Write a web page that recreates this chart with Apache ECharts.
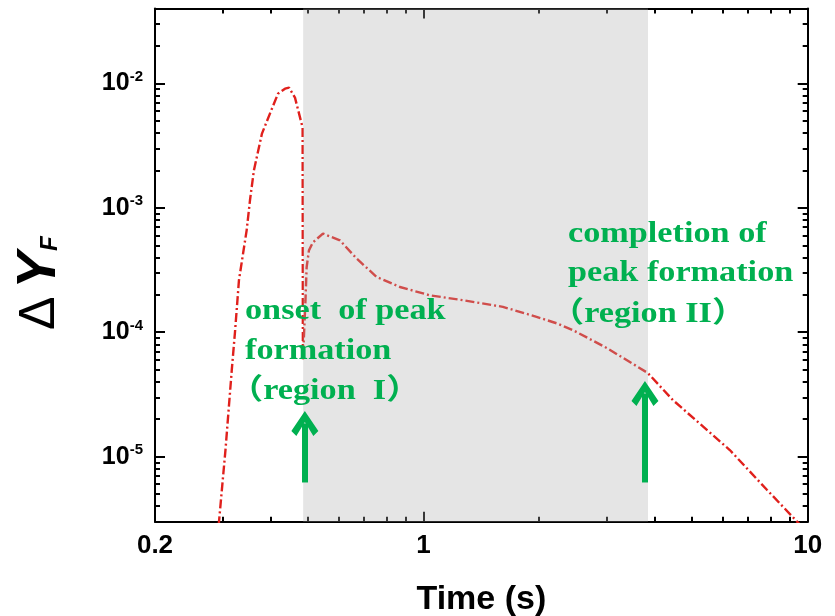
<!DOCTYPE html>
<html><head><meta charset="utf-8">
<script src="https://cdn.jsdelivr.net/npm/echarts@6/dist/echarts.min.js"></script>
<style>html,body{margin:0;padding:0;background:#fff}#c{width:835px;height:616px}</style>
</head><body><div id="c"></div>
<script>
// ---- data ----
const time = [0.288, 0.2935, 0.3051, 0.3168, 0.323, 0.3308, 0.3464, 0.3534, 0.3618, 0.3797, 0.4031, 0.418, 0.436, 0.4466, 0.4628, 0.4845, 0.4853, 0.4929, 0.4963, 0.5032, 0.5154, 0.5472, 0.6058, 0.6697, 0.755, 0.868, 1.039, 1.266, 1.609, 1.969, 2.22, 2.448, 3.002, 3.836, 4.457, 6.27, 7.83, 9.37, 10.0];
const dYF = [1.5e-6, 3.0e-6, 1.13e-5, 4.93e-5, 1.0e-4, 2.62e-4, 6.59e-4, 1.15e-3, 2.0e-3, 3.95e-3, 6.27e-3, 8.27e-3, 9.07e-3, 9.24e-3, 7.68e-3, 4.41e-3, 5.97e-5, 1.81e-4, 3.33e-4, 4.55e-4, 5.28e-4, 6.20e-4, 5.48e-4, 3.91e-4, 2.78e-4, 2.31e-4, 1.98e-4, 1.81e-4, 1.60e-4, 1.33e-4, 1.18e-4, 1.04e-4, 7.46e-5, 4.70e-5, 2.85e-5, 1.13e-5, 5.42e-6, 3.02e-6, 2.45e-6];
const xRange = [0.2, 10];
const yRange = [3e-6, 0.04];
const xLabelValues = [0.2, 1, 10];
const xMajorTicks = [1];
const xMinorTicks = [0.3, 0.4, 0.5, 0.6, 0.7, 0.8, 0.9, 2, 3, 4, 5, 6, 7, 8, 9];
const yMajorTicks = [1e-5, 1e-4, 1e-3, 1e-2];
const yMinorTicks = [4e-6, 5e-6, 6e-6, 7e-6, 8e-6, 9e-6, 2e-5, 3e-5, 4e-5, 5e-5, 6e-5, 7e-5, 8e-5, 9e-5, 2e-4, 3e-4, 4e-4, 5e-4, 6e-4, 7e-4, 8e-4, 9e-4, 2e-3, 3e-3, 4e-3, 5e-3, 6e-3, 7e-3, 8e-3, 9e-3, 2e-2, 3e-2];
const shadeRange = [0.486, 3.84];
const arrowX = [0.491, 3.77];
const arrowBottom = [6.2e-6, 6.2e-6];
const arrowTop = [1.85e-5, 3.22e-5];

const chart = echarts.init(document.getElementById('c'), null, {renderer: 'canvas'});
const black = '#000';
const green = '#00b050';
function xAxisDef(pos, major) {
  return {
    type: 'log', logBase: 10, position: pos, min: xRange[0], max: xRange[1],
    axisLine: {show: major, onZero: false, lineStyle: {color: black, width: 2}},
    axisTick: {show: true, inside: true, length: major ? 10 : 5, lineStyle: {color: black, width: 2},
      customValues: major ? xMajorTicks : xMinorTicks},
    axisLabel: {show: major && pos === 'bottom', customValues: xLabelValues, margin: 11,
      fontFamily: 'Liberation Sans', fontWeight: 'bold', fontSize: 26, color: black,
      formatter: v => String(+v.toPrecision(3))},
    splitLine: {show: false}, minorTick: {show: false},
    name: (major && pos === 'bottom') ? 'Time (s)' : '', nameLocation: 'middle', nameGap: 61,
    nameTextStyle: {fontFamily: 'Liberation Sans', fontWeight: 'bold', fontSize: 34, color: black}
  };
}
function yAxisDef(pos, major) {
  return {
    type: 'log', logBase: 10, position: pos, min: yRange[0], max: yRange[1],
    axisLine: {show: major, onZero: false, lineStyle: {color: black, width: 2}},
    axisTick: {show: true, inside: true, length: major ? 10 : 5, lineStyle: {color: black, width: 2},
      customValues: major ? yMajorTicks : yMinorTicks},
    axisLabel: {show: major && pos === 'left', customValues: yMajorTicks, margin: 12,
      formatter: v => '{b|10}{s|' + Math.round(Math.log10(v)) + '}',
      rich: {
        b: {fontFamily: 'Liberation Sans', fontWeight: 'bold', fontSize: 25, color: black, lineHeight: 28},
        s: {fontFamily: 'Liberation Sans', fontWeight: 'bold', fontSize: 15, color: black, verticalAlign: 'top', lineHeight: 16}
      }},
    splitLine: {show: false}, minorTick: {show: false},
    name: (major && pos === 'left') ? '{d|Δ}{y|Y}{f|F}' : '', nameLocation: 'middle', nameRotate: 90, nameGap: 85,
    nameTextStyle: {padding: [0, 36, 0, 0], rich: {
      d: {fontFamily: 'Liberation Sans', fontSize: 50, color: black, lineHeight: 60},
      y: {fontFamily: 'Liberation Sans', fontWeight: 'bold', fontStyle: 'italic', fontSize: 55, color: black, padding: [0, 0, 0, 8], lineHeight: 60},
      f: {fontFamily: 'Liberation Sans', fontWeight: 'bold', fontStyle: 'italic', fontSize: 24, color: black, verticalAlign: 'bottom', padding: [0, 0, 8, 1], lineHeight: 24}
    }}
  };
}
const textStyleBase = {fontFamily: '"Liberation Serif", "Noto Sans CJK SC"', fontWeight: 'bold', fontSize: 29, fill: green, align: 'left', verticalAlign: 'middle'};
function note(text, x, y) {
  return {type: 'text', x: x, y: y, scaleX: 1.18, z: 100, silent: true, style: Object.assign({text: text, x: 0, y: 0}, textStyleBase)};
}
const chevron = 'path://M13.5,0 L27,20 L22,25 L13.5,11 L5,25 L0,20 Z';

chart.setOption({
  animation: false,
  backgroundColor: '#fff',
  grid: {left: 155, right: 27.3, top: 8.5, bottom: 94.3, containLabel: false, outerBoundsMode: 'none'},
  xAxis: [xAxisDef('bottom', true), xAxisDef('top', true), xAxisDef('bottom', false), xAxisDef('top', false)],
  yAxis: [yAxisDef('left', true), yAxisDef('right', true), yAxisDef('left', false), yAxisDef('right', false)],
  series: [{
    type: 'line', xAxisIndex: 0, yAxisIndex: 0, z: 2,
    data: time.map((t, i) => [t, dYF[i]]),
    showSymbol: false, smooth: false, clip: true,
    lineStyle: {color: '#e0201c', width: 2.4, type: [9, 3, 2, 3]},
    markArea: {silent: true, z: 3, itemStyle: {color: 'rgba(175,175,175,0.32)'},
      data: [[{xAxis: shadeRange[0]}, {xAxis: shadeRange[1]}]]},
    markLine: {silent: true, z: 5, symbol: ['none', chevron], symbolSize: [27, 25],
      label: {show: false},
      lineStyle: {color: green, width: 6, type: 'solid'},
      data: arrowX.map((x, i) => [{coord: [x, arrowBottom[i]]}, {coord: [x, arrowTop[i]]}])}
  }],
  graphic: [
    note('onset  of peak', 245, 312),
    note('formation', 245, 352),
    note('（region  I）', 229, 392),
    note('completion of', 568, 235),
    note('peak formation', 568, 274),
    note('（region II）', 550, 315)
  ]
});
</script></body></html>
